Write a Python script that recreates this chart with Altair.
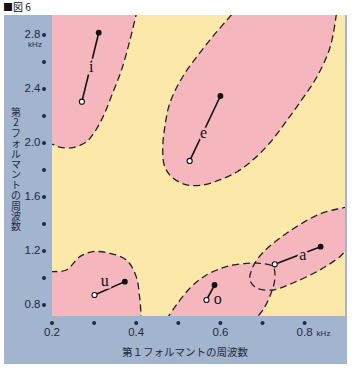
import altair as alt
import pandas as pd

# ---- data (kHz) ----
vowels = ["i", "e", "u", "o", "a"]
f1_start = [0.271, 0.527, 0.301, 0.567, 0.729]
f2_start = [2.306, 1.867, 0.874, 0.837, 1.101]
f1_end = [0.311, 0.600, 0.373, 0.586, 0.838]
f2_end = [2.817, 2.348, 0.973, 0.948, 1.232]
label_f1 = [0.293, 0.560, 0.325, 0.594, 0.796]
label_f2 = [2.563, 2.074, 0.978, 0.844, 1.170]

# region boundaries (dashed), points extend past the plot edge and get clipped
reg_i_f1 = [0.41, 0.40, 0.385, 0.365, 0.344, 0.325, 0.305, 0.282, 0.249, 0.218, 0.202, 0.17, 0.15]
reg_i_f2 = [3.06, 2.95, 2.76, 2.54, 2.37, 2.22, 2.10, 2.01, 1.965, 1.97, 1.99, 2.02, 3.13]
reg_e_f1 = [0.658, 0.629, 0.589, 0.551, 0.510, 0.480, 0.468, 0.463, 0.468, 0.487, 0.520, 0.558,
            0.598, 0.639, 0.677, 0.717, 0.757, 0.793, 0.829, 0.860, 0.876, 0.881]
reg_e_f2 = [3.08, 2.96, 2.815, 2.667, 2.489, 2.296, 2.119, 1.948, 1.822, 1.741, 1.689, 1.689,
            1.726, 1.785, 1.874, 2.000, 2.163, 2.319, 2.489, 2.704, 2.963, 3.08]
reg_u_f1 = [0.17, 0.202, 0.234, 0.266, 0.297, 0.337, 0.377, 0.400, 0.408, 0.412, 0.415, 0.17]
reg_u_f2 = [1.04, 1.047, 1.059, 1.158, 1.195, 1.183, 1.133, 1.010, 0.861, 0.713, 0.615, 0.615]
reg_o_f1 = [0.463, 0.472, 0.487, 0.528, 0.567, 0.614, 0.662, 0.693, 0.725, 0.729, 0.717, 0.701, 0.689, 0.681]
reg_o_f2 = [0.615, 0.689, 0.763, 0.926, 1.022, 1.084, 1.109, 1.109, 1.084, 0.985, 0.861, 0.763, 0.713, 0.615]
reg_a_f1 = [0.93, 0.899, 0.836, 0.758, 0.700, 0.677, 0.670, 0.686, 0.724, 0.772, 0.836, 0.883, 0.900, 0.93]
reg_a_f2 = [1.556, 1.526, 1.474, 1.333, 1.185, 1.081, 0.985, 0.926, 0.911, 0.963, 1.059, 1.156, 1.207, 1.252]

x_dot_vals = [0.2, 0.3, 0.4, 0.5, 0.6, 0.7, 0.8]
x_label_vals = [0.2, 0.4, 0.6, 0.8]
x_label_text = ["0.2", "0.4", "0.6", "0.8"]
y_dot_vals = [0.8, 1.0, 1.2, 1.4, 1.6, 1.8, 2.0, 2.2, 2.4, 2.6, 2.8]
y_label_vals = [0.8, 1.2, 1.6, 2.0, 2.4, 2.8]
y_label_text = ["0.8", "1.2", "1.6", "2.0", "2.4", "2.8"]

x_title = "第１フォルマントの周波数"
y_title_chars = list("第2フォルマントの周波数")
fig_title = "■図 6"

# ---- styling ----
W, H = 293, 301
PINK = "#f5b6bd"
YELLOW = "#fce8a9"
BLUE = "#a3b4cf"
INK = "#1f2a40"
XD = [0.2, 0.2 + W / 421.0]
YD = [0.7185, 2.948]

xs = alt.Scale(domain=XD, nice=False, zero=False)
ys = alt.Scale(domain=YD, nice=False, zero=False)
X = lambda f: alt.X(f, type="quantitative", scale=xs, axis=None)
Y = lambda f: alt.Y(f, type="quantitative", scale=ys, axis=None)

one = pd.DataFrame({"k": [0]})

rows = []
for name, fx, fy in [("i", reg_i_f1, reg_i_f2), ("e", reg_e_f1, reg_e_f2),
                     ("u", reg_u_f1, reg_u_f2), ("o", reg_o_f1, reg_o_f2),
                     ("a", reg_a_f1, reg_a_f2)]:
    for k, (a, b) in enumerate(zip(fx, fy)):
        rows.append({"region": name, "idx": k, "f1": a, "f2": b})
reg_df = pd.DataFrame(rows)

seg_df = pd.DataFrame({"v": vowels, "x1": f1_start, "y1": f2_start, "x2": f1_end, "y2": f2_end})
lab_df = pd.DataFrame({"v": vowels, "x": label_f1, "y": label_f2})

blue = alt.Chart(one).mark_rect(color=BLUE).encode(
    x=alt.value(-48), x2=alt.value(W + 2), y=alt.value(0), y2=alt.value(H + 48))
yellow = alt.Chart(one).mark_rect(color=YELLOW).encode(
    x=alt.value(0), x2=alt.value(W), y=alt.value(0), y2=alt.value(H))

fills = alt.Chart(reg_df).mark_line(
    interpolate="catmull-rom", fill=PINK, strokeOpacity=0, clip=True
).encode(x=X("f1"), y=Y("f2"), detail="region:N", order="idx:Q")

outlines = alt.Chart(reg_df).mark_line(
    interpolate="catmull-rom", color="#222222", strokeWidth=1.3, strokeDash=[7, 4], clip=True
).encode(x=X("f1"), y=Y("f2"), detail="region:N", order="idx:Q")

segs = alt.Chart(seg_df).mark_rule(color="#111111", strokeWidth=1.6).encode(
    x=X("x1"), y=Y("y1"), x2="x2:Q", y2="y2:Q")

halo = alt.Chart(lab_df).mark_text(
    font="Liberation Serif", fontSize=16, stroke=PINK, strokeWidth=5, fill=PINK
).encode(x=X("x"), y=Y("y"), text="v:N")
letters = alt.Chart(lab_df).mark_text(
    font="Liberation Serif", fontSize=16, color="#111111"
).encode(x=X("x"), y=Y("y"), text="v:N")

open_pts = alt.Chart(seg_df).mark_point(
    shape="circle", size=26, filled=True, fill="white", stroke="#111111", strokeWidth=1.1, opacity=1
).encode(x=X("x1"), y=Y("y1"))
end_pts = alt.Chart(seg_df).mark_circle(size=34, color="#111111", opacity=1).encode(
    x=X("x2"), y=Y("y2"))

xdots = alt.Chart(pd.DataFrame({"v": x_dot_vals})).mark_circle(size=16, color=INK, opacity=1).encode(
    x=X("v"), y=alt.value(H + 7))
xlabels = alt.Chart(pd.DataFrame({"v": x_label_vals, "t": x_label_text})).mark_text(
    font="Liberation Sans", fontSize=11.5, color=INK, baseline="middle"
).encode(x=X("v"), y=alt.value(H + 17), text="t:N")
xkhz = alt.Chart(pd.DataFrame({"v": [0.8]})).mark_text(
    font="Liberation Sans", fontSize=8, color=INK, align="left", baseline="middle", dx=12
).encode(x=X("v"), y=alt.value(H + 18), text=alt.value("kHz"))

ydots = alt.Chart(pd.DataFrame({"v": y_dot_vals})).mark_circle(size=16, color=INK, opacity=1).encode(
    x=alt.value(-8), y=Y("v"))
ylabels = alt.Chart(pd.DataFrame({"v": y_label_vals, "t": y_label_text})).mark_text(
    font="Liberation Sans", fontSize=11.5, color=INK, align="right", baseline="middle"
).encode(x=alt.value(-11.5), y=Y("v"), text="t:N")
ykhz = alt.Chart(pd.DataFrame({"v": [2.8]})).mark_text(
    font="Liberation Sans", fontSize=8, color=INK, align="center", baseline="middle", dy=10
).encode(x=alt.value(-17), y=Y("v"), text=alt.value("kHz"))

xtitle = alt.Chart(one).mark_text(
    font="Noto Sans CJK JP", fontSize=10.5, color=INK, align="center", baseline="middle"
).encode(x=alt.value(133), y=alt.value(H + 37), text=alt.value(x_title))

# vertical (tategaki) axis title: one character per line
ytitle_df = pd.DataFrame({"c": y_title_chars, "k": list(range(len(y_title_chars)))})
ytitle = alt.Chart(ytitle_df).transform_calculate(
    py="98 + datum.k * 10.4"
).mark_text(
    font="Noto Sans CJK JP", fontSize=10, color=INK, align="center", baseline="middle"
).encode(x=alt.value(-36), y=alt.Y("py:Q", scale=None, axis=None), text="c:N")

ftitle = alt.Chart(one).mark_text(
    font="Noto Sans CJK JP", fontSize=10, color="#111111", align="left", baseline="middle"
).encode(x=alt.value(-49), y=alt.value(-7), text=alt.value(fig_title))

chart = alt.layer(
    blue, yellow, fills, outlines, segs, halo, letters, open_pts, end_pts,
    xdots, xlabels, xkhz, ydots, ylabels, ykhz, xtitle, ytitle, ftitle
).resolve_scale(y="independent").properties(
    width=W, height=H,
    padding={"left": 52, "top": 15, "right": 7, "bottom": 53},
    autosize=alt.AutoSizeParams(type="none"),
    background="white",
).configure_view(stroke=None)

chart.save("out.html", embed_options={"renderer": "svg", "actions": False})
